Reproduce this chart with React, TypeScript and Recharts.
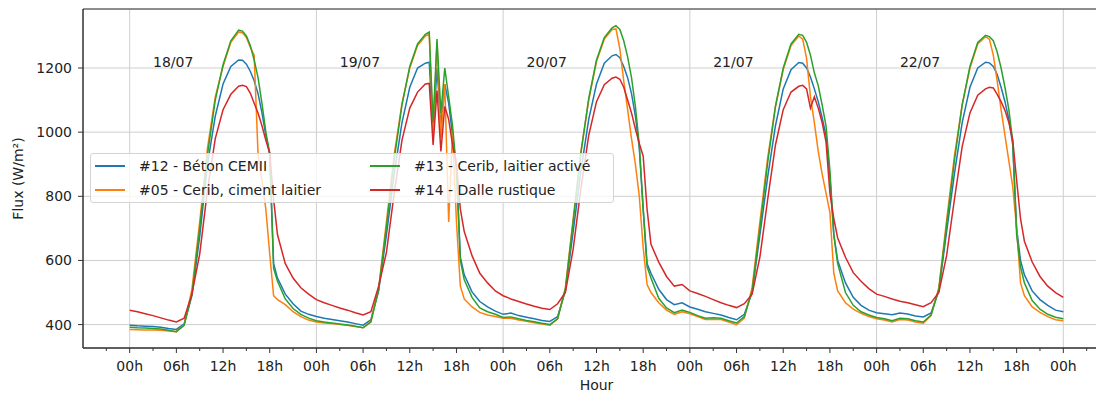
import { CartesianGrid, Line, LineChart, ReferenceArea, ReferenceDot, XAxis, YAxis } from "recharts"

const FONT = "'DejaVu Sans', sans-serif"
const TEXT = "#222"
const AXIS = "#333"

const X_DOMAIN = [-6, 126]
const Y_DOMAIN = [327, 1384]

const days = ["18/07", "19/07", "20/07", "21/07", "22/07"]
const dayLabelHours = [3, 27, 51, 75, 99]
const dayLines = [0, 24, 48, 72, 96, 120]

// samples within a day (h), half-hours around the afternoon drop
const dayHours = [0, 1, 2, 3, 4, 5, 6, 7, 8, 9, 10, 11, 12, 13, 14, 14.5, 15, 15.5, 16, 16.5, 17, 17.5, 18, 18.5, 19, 20, 21, 22, 23]
const hours = [...days.flatMap((_, d) => dayHours.map((h) => d * 24 + h)), 120]

const hourTicks = [-3, 0, 3, 6, 9, 12, 15, 18, 21, 24, 27, 30, 33, 36, 39, 42, 45, 48, 51, 54, 57, 60, 63, 66, 69, 72, 75, 78, 81, 84, 87, 90, 93, 96, 99, 102, 105, 108, 111, 114, 117, 120, 123]
const majorTicks = [0, 6, 12, 18, 24, 30, 36, 42, 48, 54, 60, 66, 72, 78, 84, 90, 96, 102, 108, 114, 120]
const majorLabels = [
  "00h", "06h", "12h", "18h", "00h", "06h", "12h", "18h", "00h", "06h", "12h", "18h",
  "00h", "06h", "12h", "18h", "00h", "06h", "12h", "18h", "00h",
]
const fluxTicks = [400, 600, 800, 1000, 1200]

// W/m², one row per day
const beton = [
  398, 396, 395, 394, 392, 388, 385, 402, 490, 675, 900, 1050, 1150, 1205, 1225, 1224, 1212, 1190, 1160, 1120, 1060, 990, 930, 590, 545, 495, 465, 442, 432,
  425, 420, 416, 412, 408, 403, 398, 415, 505, 680, 870, 1030, 1140, 1200, 1215, 1218, 1000, 1200, 1020, 1150, 1090, 990, 890, 610, 555, 502, 472, 455, 442,
  432, 436, 428, 423, 418, 413, 410, 425, 505, 690, 880, 1040, 1150, 1215, 1238, 1242, 1232, 1205, 1170, 1120, 1050, 950, 760, 590, 560, 510, 478, 462, 468,
  455, 448, 440, 435, 430, 422, 415, 432, 500, 680, 860, 1020, 1135, 1195, 1217, 1215, 1200, 1172, 1135, 1095, 1045, 990, 860, 680, 600, 530, 485, 460, 445,
  437, 434, 431, 436, 433, 427, 424, 436, 505, 690, 870, 1030, 1140, 1200, 1218, 1216, 1205, 1180, 1140, 1095, 1040, 960, 700, 600, 555, 505, 478, 460, 445,
  440,
]
const cimentLaitier = [
  385, 384, 383, 383, 382, 380, 378, 400, 510, 720, 950, 1110, 1205, 1280, 1312, 1310, 1295, 1265, 1240, 930, 850, 760, 620, 490, 478, 462, 440, 425, 414,
  408, 405, 403, 400, 398, 394, 390, 410, 515, 720, 930, 1090, 1200, 1270, 1300, 1305, 1000, 1280, 980, 1150, 720, 1000, 720, 520, 480, 455, 438, 430, 425,
  420, 420, 414, 410, 406, 402, 398, 418, 515, 730, 940, 1100, 1220, 1290, 1320, 1322, 1260, 1160, 1070, 980, 900, 800, 640, 525, 500, 468, 445, 432, 440,
  434, 425, 416, 417, 416, 408, 400, 420, 515, 720, 920, 1080, 1195, 1270, 1300, 1290, 1230, 1110, 1030, 940, 870, 810, 750, 560, 505, 468, 448, 435, 425,
  418, 414, 408, 416, 414, 408, 404, 428, 515, 725, 925, 1085, 1200, 1275, 1298, 1290, 1240, 1160, 1070, 990, 910, 830, 700, 530, 490, 455, 438, 425, 415,
  412,
]
const laitierActive = [
  392, 390, 389, 388, 386, 382, 378, 398, 495, 700, 930, 1100, 1210, 1285, 1318, 1315, 1300, 1270, 1225, 1170, 1090, 1000, 935, 575, 535, 480, 450, 432, 420,
  412, 408, 405, 402, 399, 395, 390, 408, 510, 705, 915, 1085, 1205, 1275, 1305, 1312, 1030, 1290, 1060, 1200, 1110, 1020, 880, 600, 540, 485, 452, 440, 432,
  422, 424, 418, 413, 409, 404, 400, 418, 510, 720, 935, 1105, 1225, 1295, 1325, 1332, 1320, 1285, 1235, 1170, 1080, 960, 760, 580, 545, 482, 452, 437, 445,
  438, 428, 420, 421, 420, 412, 405, 425, 505, 700, 905, 1080, 1200, 1275, 1305, 1302, 1280, 1240, 1185, 1145, 1085, 1020, 880, 680, 590, 500, 460, 440, 430,
  422, 418, 412, 420, 418, 412, 408, 430, 510, 710, 910, 1085, 1205, 1280, 1302, 1298, 1285, 1250, 1200, 1140, 1070, 970, 680, 580, 530, 475, 448, 432, 423,
  418,
]
const dalleRustique = [
  445, 440, 434, 428, 421, 414, 408, 420, 495, 620, 820, 980, 1070, 1118, 1143, 1146, 1142, 1122, 1090, 1060, 1020, 975, 935, 790, 680, 590, 545, 515, 495,
  478, 468, 460, 452, 445, 437, 430, 440, 520, 625, 810, 975, 1075, 1125, 1150, 1152, 960, 1130, 940, 1080, 1040, 960, 900, 760, 690, 615, 560, 530, 505,
  490, 480, 472, 464, 457, 451, 447, 465, 500, 635, 825, 990, 1095, 1148, 1168, 1172, 1165, 1140, 1100, 1060, 1010, 965, 925, 760, 650, 595, 550, 520, 525,
  505, 497, 488, 478, 468, 460, 453, 465, 495, 610, 790, 960, 1070, 1125, 1143, 1146, 1135, 1075, 1110, 1075, 1030, 970, 810, 730, 670, 610, 562, 535, 512,
  495, 488, 480, 473, 468, 462, 456, 468, 500, 615, 790, 955, 1060, 1115, 1135, 1140, 1138, 1118, 1095, 1068, 1030, 975, 850, 730, 660, 595, 550, 520, 500,
  485,
]

const series = [
  { key: "b", name: "#12 - Béton CEMII", color: "#1f77b4", values: beton },
  { key: "o", name: "#05 - Cerib, ciment laitier", color: "#ff7f0e", values: cimentLaitier },
  { key: "g", name: "#13 - Cerib, laitier activé", color: "#2ca02c", values: laitierActive },
  { key: "r", name: "#14 - Dalle rustique", color: "#d62728", values: dalleRustique },
]

const data = hours.map((h, i) => {
  const row: Record<string, number> = { h }
  series.forEach((s) => (row[s.key] = s.values[i]))
  return row
})

// vertical grid only at midnight
function midnightLines({ offset }: any) {
  const [lo, hi] = X_DOMAIN
  return dayLines.map((h) => offset.left + ((h - lo) / (hi - lo)) * offset.width)
}

function HourTick(props: any) {
  const { x, y, payload } = props
  const i = majorTicks.indexOf(payload.value)
  const major = i >= 0
  return (
    <g>
      <line x1={x} x2={x} y1={y} y2={y + (major ? 5 : 3)} stroke={AXIS} strokeWidth={1} />
      {major && (
        <text x={x} y={y + 18} textAnchor="middle" dominantBaseline="central" fill={TEXT} fontSize={14} fontFamily={FONT}>
          {majorLabels[i]}
        </text>
      )}
    </g>
  )
}

function FluxLegend() {
  // column-major like matplotlib's ncol=2
  const cols = [series.slice(0, 2), series.slice(2, 4)]
  return (
    <div
      style={{
        position: "absolute",
        left: 90,
        top: 153,
        width: 518,
        height: 48,
        paddingLeft: 4,
        background: "rgba(255,255,255,0.8)",
        border: "1px solid #d4d4d4",
        borderRadius: 3,
        display: "flex",
        fontFamily: FONT,
        fontSize: 14,
        color: TEXT,
      }}
    >
      {cols.map((col, ci) => (
        <div key={ci} style={{ width: ci === 0 ? 275 : "auto" }}>
          {col.map((s) => (
            <div key={s.key} style={{ height: 24, display: "flex", alignItems: "center" }}>
              <span style={{ width: 30, height: 2, background: s.color, marginRight: 14 }} />
              <span style={{ whiteSpace: "nowrap" }}>{s.name}</span>
            </div>
          ))}
        </div>
      ))}
    </div>
  )
}

export default function App() {
  return (
    <div style={{ position: "fixed", left: 0, top: 0, width: 1096, height: 394, overflow: "hidden", background: "#fff" }}>
      <LineChart width={1120} height={394} data={data} margin={{ top: 9, right: 10, bottom: 0, left: 0 }}>
        <CartesianGrid stroke="#cfcfcf" strokeWidth={1} verticalCoordinatesGenerator={midnightLines} />
        <XAxis
          dataKey="h"
          type="number"
          domain={X_DOMAIN}
          allowDataOverflow
          ticks={hourTicks}
          interval={0}
          tick={(p: any) => <HourTick {...p} />}
          tickSize={0}
          tickMargin={0}
          tickLine={false}
          axisLine={{ stroke: AXIS }}
          height={46}
          label={{
            content: ({ viewBox }: any) => (
              <text
                x={viewBox.x + viewBox.width / 2}
                y={viewBox.y + 37}
                textAnchor="middle"
                dominantBaseline="central"
                fill={TEXT}
                fontSize={14}
                fontFamily={FONT}
              >
                Hour
              </text>
            ),
          }}
        />
        <YAxis
          type="number"
          domain={Y_DOMAIN}
          allowDataOverflow
          ticks={fluxTicks}
          interval={0}
          width={83}
          tickSize={5}
          tickMargin={6}
          tickLine={{ stroke: AXIS }}
          axisLine={{ stroke: AXIS }}
          tick={{ fill: TEXT, fontSize: 14, fontFamily: FONT }}
          label={{
            content: ({ viewBox }: any) => (
              <text
                transform={`translate(18, ${viewBox.y + viewBox.height / 2}) rotate(-90)`}
                textAnchor="middle"
                dominantBaseline="central"
                fill={TEXT}
                fontSize={14}
                fontFamily={FONT}
              >
                Flux (W/m²)
              </text>
            ),
          }}
        />
        <ReferenceArea x1={X_DOMAIN[0]} x2={X_DOMAIN[1]} y1={Y_DOMAIN[0]} y2={Y_DOMAIN[1]} fill="none" stroke={AXIS} strokeWidth={1} ifOverflow="visible" />
        {series.map((s) => (
          <Line
            key={s.key}
            type="linear"
            dataKey={s.key}
            name={s.name}
            stroke={s.color}
            strokeWidth={1.5}
            dot={false}
            activeDot={false}
            isAnimationActive={false}
          />
        ))}
        {days.map((d, i) => (
          <ReferenceDot
            key={d}
            x={dayLabelHours[i]}
            y={1200}
            r={0}
            fill="none"
            stroke="none"
            label={{
              content: ({ viewBox }: any) => (
                <text x={viewBox.x} y={viewBox.y - 1} fill={TEXT} fontSize={14} fontFamily={FONT}>
                  {d}
                </text>
              ),
            }}
          />
        ))}
      </LineChart>
      <FluxLegend />
    </div>
  )
}
